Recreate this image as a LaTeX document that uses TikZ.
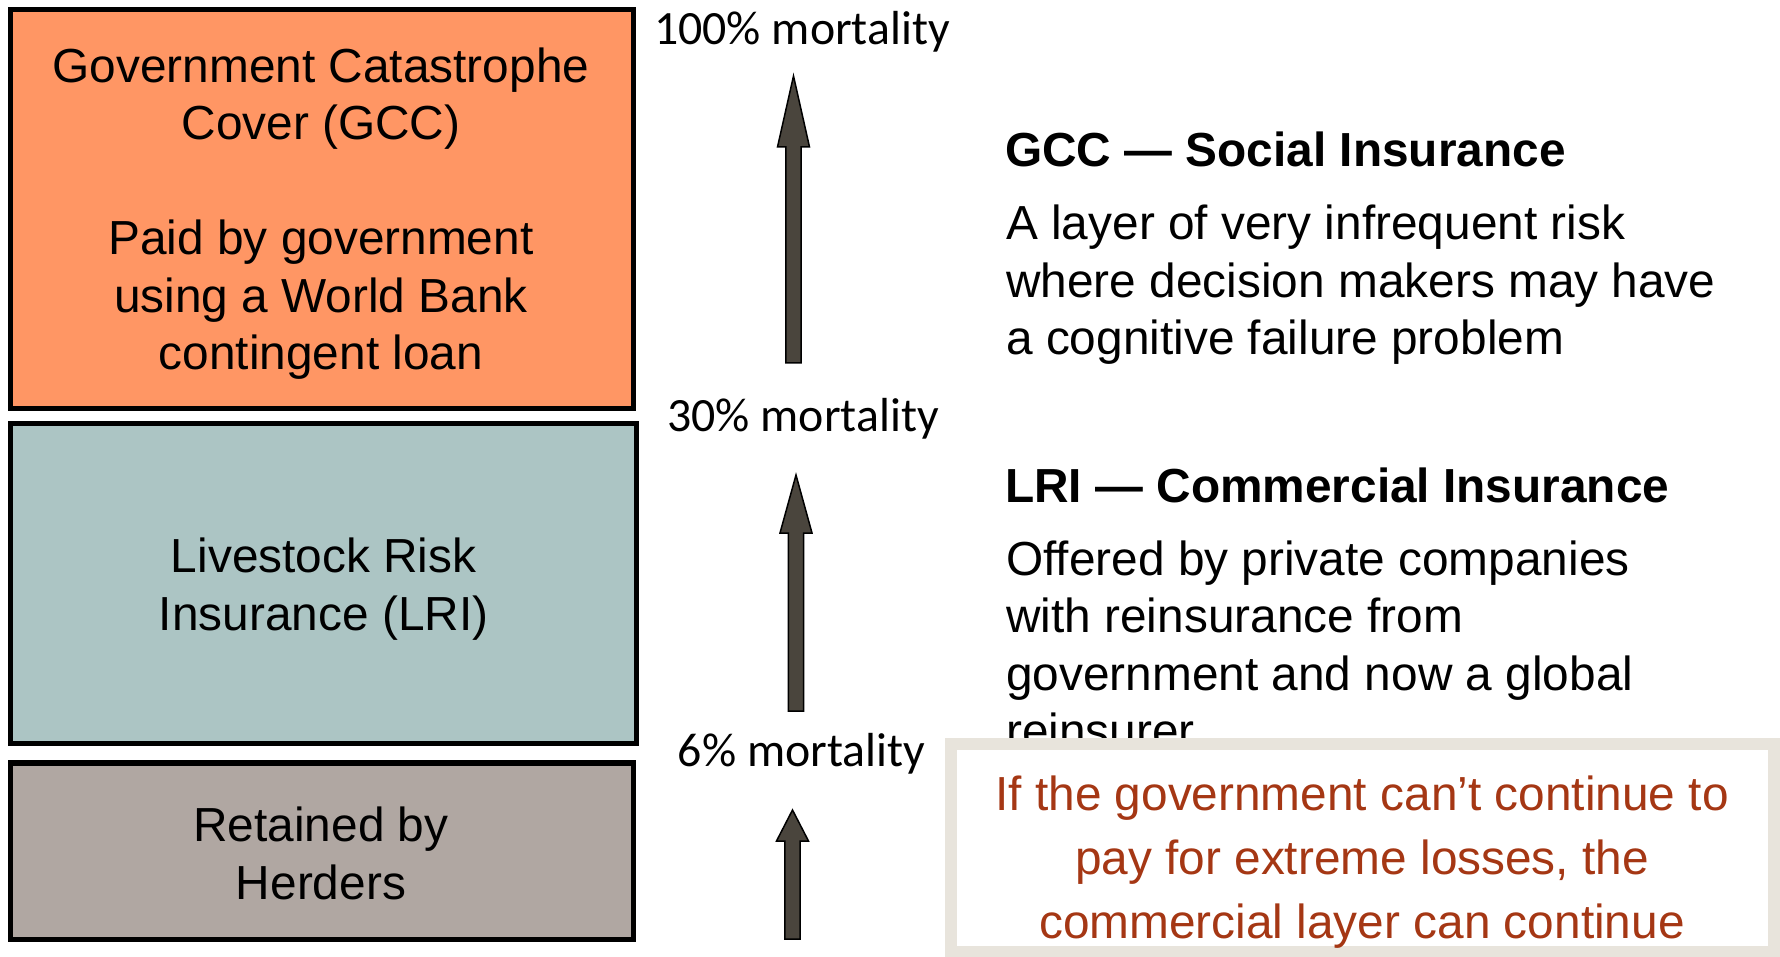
\documentclass[tikz,border=0pt]{standalone}
\usepackage{fontspec}
\setmainfont{Liberation Sans}
\newfontfamily\labelfont{Carlito}
\usetikzlibrary{calc}

\definecolor{gccfill}{RGB}{255,150,100}
\definecolor{lrifill}{RGB}{172,197,196}
\definecolor{herdfill}{RGB}{176,167,162}
\definecolor{arrowfill}{RGB}{74,69,61}
\definecolor{noteframe}{RGB}{232,228,220}
\definecolor{notetext}{RGB}{165,55,20}

% block arrow: #1 base coordinate, #2 tip coordinate, #3 head length
\newcommand{\liftarrow}[3]{%
  \draw[liftarrowstyle]
    ($(#1)+(-7.6,0)$) -- ($(#2)+(-7.6,#3)$) -- ($(#2)+(-16,#3)$) -- (#2)
    -- ($(#2)+(16,#3)$) -- ($(#2)+(7.6,#3)$) -- ($(#1)+(7.6,0)$) -- cycle;}

\tikzset{
  layerbox/.style={draw=black, line width=5.3pt, inner sep=0pt},
  layertext/.style={inner sep=0pt, align=center,
    font=\fontsize{47.8}{57.5}\selectfont},
  levellabel/.style={anchor=base, inner sep=0pt,
    font=\labelfont\fontsize{47.8}{57}\selectfont},
  heading/.style={anchor=base west, inner sep=0pt,
    font=\bfseries\fontsize{47.8}{57.5}\selectfont},
  bodytext/.style={anchor=base west, inner sep=0pt,
    font=\fontsize{47.8}{57.5}\selectfont},
  liftarrowstyle/.style={draw=black, line width=1.5pt, fill=arrowfill, line join=miter},
  noteframe/.style={draw=noteframe, line width=12pt, fill=white},
  notestyle/.style={anchor=base, inner sep=0pt, text=notetext,
    font=\fontsize{47.8}{64}\selectfont},
}

\begin{document}
\begin{tikzpicture}[x=1pt,y=-1pt]
\useasboundingbox[fill=white] (0,0) rectangle (1780,957);

% risk layers
\node[layerbox, fill=gccfill, minimum width=622.5pt, minimum height=398.5pt]
  (gcc) at (321.95,208.95) {};
\node[layerbox, fill=lrifill, minimum width=626pt, minimum height=320pt]
  (lri) at (323.7,583.5) {};
\node[layerbox, fill=herdfill, minimum width=622.5pt, minimum height=176.4pt]
  (herd) at (321.95,851.2) {};

\node[layertext] (gcctext) at ($(gcc.center)+(-1,4.5)$)
  {Government Catastrophe\\Cover (GCC)\\[57.5pt]Paid by government\\using a World Bank\\contingent loan};
\node[layertext] (lritext) at ($(lri.center)+(0,5.7)$) {Livestock Risk\\Insurance (LRI)};
\node[layertext] (herdtext) at ($(herd.center)+(-1,2)$) {Retained by\\Herders};

% mortality thresholds
\node[levellabel] (m100) at (802,45) {100\% mortality};
\node[levellabel] (m30) at (803,431) {30\% mortality};
\node[levellabel] (m6) at (801.5,766) {6\% mortality};

% arrows between thresholds
\coordinate (a1base) at (793.5,363);
\coordinate (a1tip) at (793.5,76);
\coordinate (a2base) at (796,711);
\coordinate (a2tip) at (796,475);
\coordinate (a3base) at (792.5,939);
\coordinate (a3tip) at (792.5,810);
\liftarrow{a1base}{a1tip}{71}
\liftarrow{a2base}{a2tip}{58}
\liftarrow{a3base}{a3tip}{31}

% descriptions
\node[heading] (gcchead) at (1005,167) {GCC — Social Insurance};
\node[bodytext] (gccbody) at (1006,240)
  {\begin{tabular}[t]{@{}l@{}}A layer of very infrequent risk\\where decision makers may have\\a cognitive failure problem\end{tabular}};
\node[heading] (lrihead) at (1005,502) {LRI — Commercial Insurance};
\node[bodytext] (lribody) at (1006,575)
  {\begin{tabular}[t]{@{}l@{}}Offered by private companies\\with reinsurance from\\government and now a global\\reinsurer\end{tabular}};

% note
\draw[noteframe] (950.5,744) rectangle (1774,951.5);
\node[notestyle] (note) at (1362,810)
  {\begin{tabular}[t]{@{}c@{}}If the government can’t continue to\\pay for extreme losses, the\\commercial layer can continue\end{tabular}};
\end{tikzpicture}
\end{document}
